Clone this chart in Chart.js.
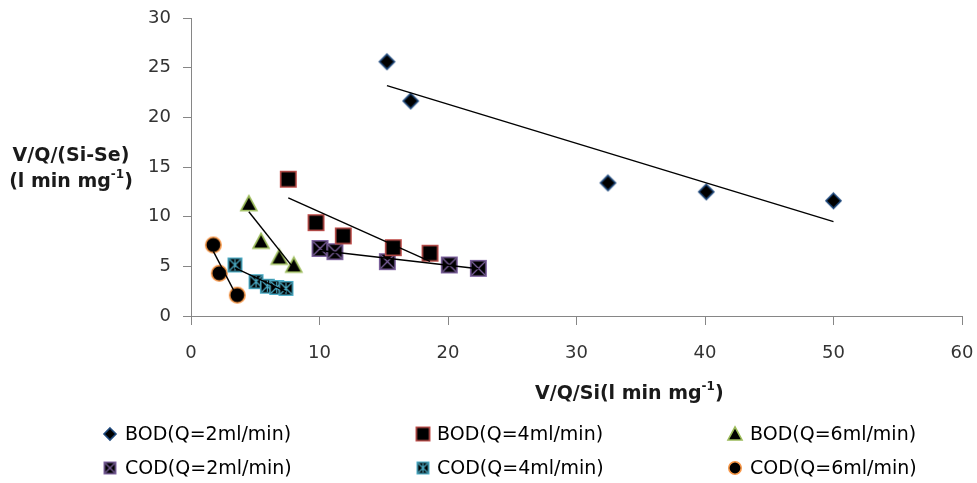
<!DOCTYPE html>
<html>
<head>
<meta charset="utf-8">
<script src="https://cdn.jsdelivr.net/npm/chart.js@4.4.0/dist/chart.umd.min.js"></script>
<style>
  html, body { margin: 0; padding: 0; background: #fff; }
  canvas { display: block; }
</style>
</head>
<body>
<canvas id="chart" width="977" height="483"></canvas>
<script>
// --- data ---
const bod2X = [15.25, 17.1, 32.45, 40.1, 50.0];
const bod2Y = [25.6, 21.65, 13.4, 12.5, 11.6];
const bod4X = [7.57, 9.73, 11.85, 15.74, 18.6];
const bod4Y = [13.77, 9.4, 8.06, 6.88, 6.32];
const bod6X = [4.5, 5.45, 6.87, 8.0];
const bod6Y = [11.3, 7.5, 5.9, 5.1];
const cod2X = [10.04, 11.2, 15.28, 20.1, 22.36];
const cod2Y = [6.8, 6.48, 5.47, 5.14, 4.8];
const cod4X = [3.42, 5.06, 5.94, 6.67, 7.39];
const cod4Y = [5.14, 3.46, 3.0, 2.87, 2.78];
const cod6X = [1.74, 2.2, 3.6];
const cod6Y = [7.15, 4.3, 2.1];

// trendline end points (as drawn)
const bod2TrendX = [15.25, 50.0], bod2TrendY = [23.2, 9.5];
const bod4TrendX = [7.57, 18.6], bod4TrendY = [11.9, 5.5];
const bod6TrendX = [4.5, 8.0], bod6TrendY = [10.5, 4.8];
const cod2TrendX = [10.04, 22.36], cod2TrendY = [6.6, 4.75];
const cod4TrendX = [3.42, 7.39], cod4TrendY = [4.85, 2.45];
const cod6TrendX = [1.74, 3.6], cod6TrendY = [6.5, 1.9];

const seriesLabels = ["BOD(Q=2ml/min)", "BOD(Q=4ml/min)", "BOD(Q=6ml/min)",
                      "COD(Q=2ml/min)", "COD(Q=4ml/min)", "COD(Q=6ml/min)"];
const xTicks = [0, 10, 20, 30, 40, 50, 60];
const yTicks = [0, 5, 10, 15, 20, 25, 30];

const FONT = '"DejaVu Sans", sans-serif';

// --- marker images ---
function makeMarker(shape, size, stroke, overlay) {
    const pad = 2;
    const c = document.createElement("canvas");
    c.width = c.height = size + pad * 2;
    const ctx = c.getContext("2d");
    const m = c.width / 2, r = size / 2;
    ctx.fillStyle = "#000";
    ctx.strokeStyle = stroke;
    ctx.lineWidth = 1.6;
    ctx.beginPath();
    if (shape === "diamond") {
        ctx.moveTo(m, m - r); ctx.lineTo(m + r, m); ctx.lineTo(m, m + r); ctx.lineTo(m - r, m);
        ctx.closePath();
    } else if (shape === "square") {
        ctx.rect(m - r + 0.8, m - r + 0.8, size - 1.6, size - 1.6);
    } else if (shape === "triangle") {
        ctx.moveTo(m, m - r); ctx.lineTo(m + r, m + r * 0.85); ctx.lineTo(m - r, m + r * 0.85);
        ctx.closePath();
    } else if (shape === "circle") {
        ctx.arc(m, m, r - 0.8, 0, Math.PI * 2);
    }
    ctx.fill();
    ctx.stroke();
    if (overlay) {
        const k = r - 2;
        ctx.lineWidth = 1.2;
        ctx.beginPath();
        ctx.moveTo(m - k, m - k); ctx.lineTo(m + k, m + k);
        ctx.moveTo(m + k, m - k); ctx.lineTo(m - k, m + k);
        if (overlay === "star") {
            ctx.moveTo(m, m - k); ctx.lineTo(m, m + k);
        }
        ctx.stroke();
    }
    return c;
}

const markers = [
    makeMarker("diamond", 15, "#1f497d"),
    makeMarker("square", 17, "#c0504d"),
    makeMarker("triangle", 16, "#9bbb59"),
    makeMarker("square", 17, "#8064a2", "x"),
    makeMarker("square", 15, "#4bacc6", "star"),
    makeMarker("circle", 17, "#f79646")
];
const legendMarkers = [
    makeMarker("diamond", 12, "#1f497d"),
    makeMarker("square", 15, "#c0504d"),
    makeMarker("triangle", 14, "#9bbb59"),
    makeMarker("square", 13, "#8064a2", "x"),
    makeMarker("square", 13, "#4bacc6", "star"),
    makeMarker("circle", 14, "#f79646")
];

const toPoints = (xs, ys) => xs.map((x, i) => ({ x, y: ys[i] }));

const pointSets = [
    toPoints(bod2X, bod2Y), toPoints(bod4X, bod4Y), toPoints(bod6X, bod6Y),
    toPoints(cod2X, cod2Y), toPoints(cod4X, cod4Y), toPoints(cod6X, cod6Y)
];
const trendSets = [
    toPoints(bod2TrendX, bod2TrendY), toPoints(bod4TrendX, bod4TrendY), toPoints(bod6TrendX, bod6TrendY),
    toPoints(cod2TrendX, cod2TrendY), toPoints(cod4TrendX, cod4TrendY), toPoints(cod6TrendX, cod6TrendY)
];

const datasets = [];
pointSets.forEach((pts, i) => {
    datasets.push({
        label: seriesLabels[i],
        data: pts,
        showLine: false,
        pointStyle: markers[i],
        pointRadius: 8,
        order: 2
    });
});
trendSets.forEach((pts, i) => {
    datasets.push({
        label: "trend " + i,
        data: pts,
        showLine: true,
        borderColor: "#000",
        borderWidth: 1.4,
        pointRadius: 0,
        order: 1
    });
});

// draw text with a "-1" superscript part
function drawRich(ctx, parts, x, y, align) {
    const big = "bold 19px " + FONT, small = "bold 12px " + FONT;
    let w = 0;
    parts.forEach(p => { ctx.font = p.sup ? small : big; w += ctx.measureText(p.t).width; });
    let cx = align === "center" ? x - w / 2 : x;
    ctx.textAlign = "left";
    ctx.textBaseline = "middle";
    parts.forEach(p => {
        ctx.font = p.sup ? small : big;
        ctx.fillText(p.t, cx, p.sup ? y - 7 : y);
        cx += ctx.measureText(p.t).width;
    });
}

const annotations = {
    id: "annotations",
    afterDraw(chart) {
        const ctx = chart.ctx;
        ctx.save();
        ctx.fillStyle = "#1a1a1a";
        // y title (horizontal, two lines)
        drawRich(ctx, [{ t: "V/Q/(Si-Se)" }], 71, 156, "center");
        drawRich(ctx, [{ t: "(l min mg" }, { t: "-1", sup: true }, { t: ")" }], 71, 182, "center");
        // x title
        drawRich(ctx, [{ t: "V/Q/Si(l min mg" }, { t: "-1", sup: true }, { t: ")" }], 535, 394, "left");

        // legend, 2 rows x 3 columns
        const colMarker = [110, 423, 735];
        const colText = [125, 437, 750];
        const rowY = [435, 469];
        ctx.font = "19px " + FONT;
        ctx.fillStyle = "#000";
        ctx.textBaseline = "middle";
        ctx.textAlign = "left";
        seriesLabels.forEach((lab, i) => {
            const r = Math.floor(i / 3), c = i % 3;
            const mk = legendMarkers[i];
            ctx.drawImage(mk, colMarker[c] - mk.width / 2, rowY[r] - 1 - mk.height / 2);
            ctx.fillText(lab, colText[c], rowY[r]);
        });
        ctx.restore();
    }
};

new Chart(document.getElementById("chart"), {
    type: "scatter",
    data: { datasets },
    options: {
        responsive: false,
        animation: false,
        layout: { padding: { left: 131, right: 15, top: 18, bottom: 117 } },
        plugins: { legend: { display: false }, tooltip: { enabled: false } },
        scales: {
            x: {
                type: "linear",
                min: xTicks[0],
                max: xTicks[xTicks.length - 1],
                afterBuildTicks: s => { s.ticks = xTicks.map(v => ({ value: v })); },
                afterFit: s => { s.height = 50; s.paddingLeft = 0; s.paddingRight = 0; },
                grid: { drawOnChartArea: false, drawTicks: true, tickLength: 9, color: "#868686" },
                border: { color: "#868686", width: 1 },
                ticks: { font: { family: FONT, size: 18 }, color: "#333", padding: 18, maxRotation: 0 }
            },
            y: {
                type: "linear",
                min: yTicks[0],
                max: yTicks[yTicks.length - 1],
                afterBuildTicks: s => { s.ticks = yTicks.map(v => ({ value: v })); },
                afterFit: s => { s.width = 60; s.paddingTop = 0; s.paddingBottom = 0; },
                grid: { drawOnChartArea: false, drawTicks: true, tickLength: 8, color: "#868686" },
                border: { color: "#868686", width: 1 },
                ticks: { font: { family: FONT, size: 18 }, color: "#333", padding: 12 }
            }
        }
    },
    plugins: [annotations]
});
</script>
</body>
</html>
